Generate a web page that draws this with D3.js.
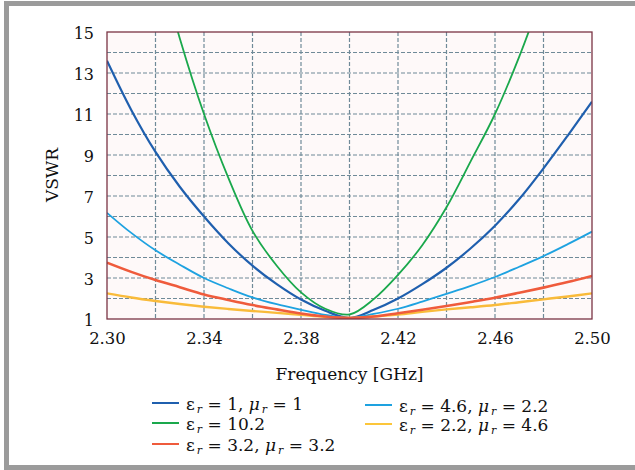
<!DOCTYPE html>
<head>
  <meta charset="utf-8">
  <script src="https://d3js.org/d3.v7.min.js"></script>
  <style>
    body { margin: 0; background: #fff; }
    svg { width: 635px; height: 470px; display: block; }
  </style>
</head>

<body>
  <svg></svg>

  <script>
    // frequency samples (GHz)
    const freqs = [2.30, 2.31, 2.32, 2.33, 2.34, 2.35, 2.36, 2.37, 2.38, 2.39, 2.40,
                   2.41, 2.42, 2.43, 2.44, 2.45, 2.46, 2.47, 2.48, 2.49, 2.50];

    // VSWR, one array per curve
    const vswrAir = [13.6, 11.2, 9.15, 7.45, 6.0, 4.7, 3.6, 2.7, 1.95, 1.4, 1.05,
                     1.45, 2.0, 2.7, 3.5, 4.45, 5.55, 6.85, 8.35, 9.95, 11.6];
    const vswrEps102 = [null, null, 19.0, 14.7, 11.0, 7.9, 5.3, 3.6, 2.3, 1.5, 1.22,
                        1.97, 3.15, 4.6, 6.45, 8.7, 11.0, 13.8, 17.0, null, null];
    const vswrEps46 = [6.18, 5.2, 4.35, 3.65, 3.0, 2.5, 2.05, 1.72, 1.45, 1.2, 1.05,
                       1.25, 1.5, 1.85, 2.23, 2.62, 3.05, 3.55, 4.07, 4.65, 5.26];
    const vswrEps32 = [3.75, 3.3, 2.9, 2.55, 2.2, 1.93, 1.68, 1.47, 1.27, 1.12, 1.05,
                       1.12, 1.28, 1.45, 1.63, 1.83, 2.04, 2.28, 2.53, 2.8, 3.1];
    const vswrEps22 = [2.25, 2.05, 1.88, 1.73, 1.6, 1.49, 1.39, 1.3, 1.2, 1.1, 1.05,
                       1.12, 1.22, 1.35, 1.47, 1.57, 1.68, 1.82, 1.96, 2.1, 2.25];

    const xTicks = [2.30, 2.34, 2.38, 2.42, 2.46, 2.50];
    const yTicks = [1, 3, 5, 7, 9, 11, 13, 15];
    const xGrid = [2.32, 2.34, 2.36, 2.38, 2.40, 2.42, 2.44, 2.46, 2.48];
    const yGrid = [2, 3, 4, 5, 6, 7, 8, 9, 10, 11, 12, 13, 14];

    // legend entries: [eps, mu] (mu null when not shown)
    const legendLabels = [['1', '1'], ['10.2', null], ['3.2', '3.2'], ['4.6', '2.2'], ['2.2', '4.6']];

    const series = [
      { values: vswrAir, color: '#1f5fae', width: 2.2 },
      { values: vswrEps102, color: '#1aa84c', width: 1.8 },
      { values: vswrEps46, color: '#1ea2e0', width: 1.8 },
      { values: vswrEps22, color: '#f9bb3a', width: 2.4 },
      { values: vswrEps32, color: '#ef5b3c', width: 2.6 },
    ];
    const legendColors = ['#1f5fae', '#1aa84c', '#ef5b3c', '#1ea2e0', '#fcc63a'];

    const serif = 'DejaVu Serif';
    const svg = d3.select('svg');
    const pL = 107, pR = 592, pT = 32, pB = 319;

    const x = d3.scaleLinear().domain([2.30, 2.50]).range([pL, pR]);
    const y = d3.scaleLinear().domain([1, 15]).range([pB, pT]);

    // outer grey frame (left, top, bottom)
    svg.append('rect').attr('x', 4).attr('y', 1).attr('width', 5).attr('height', 469).attr('fill', '#9b9b9b');
    svg.append('rect').attr('x', 4).attr('y', 1).attr('width', 631).attr('height', 5).attr('fill', '#9b9b9b');
    svg.append('rect').attr('x', 4).attr('y', 465).attr('width', 631).attr('height', 5).attr('fill', '#9b9b9b');

    // plot background
    svg.append('rect')
      .attr('x', pL).attr('y', pT)
      .attr('width', pR - pL).attr('height', pB - pT)
      .attr('fill', '#fef9f9');

    // grid
    svg.append('g').selectAll('line').data(xGrid).join('line')
      .attr('x1', d => x(d)).attr('x2', d => x(d))
      .attr('y1', pT).attr('y2', pB)
      .attr('stroke', '#6f8a98').attr('stroke-width', 1.2)
      .attr('stroke-dasharray', '4,2');
    svg.append('g').selectAll('line').data(yGrid).join('line')
      .attr('x1', pL).attr('x2', pR)
      .attr('y1', d => y(d)).attr('y2', d => y(d))
      .attr('stroke', '#6f8a98').attr('stroke-width', 1.2)
      .attr('stroke-dasharray', '4,2');

    // curves
    svg.append('clipPath').attr('id', 'plot')
      .append('rect').attr('x', pL).attr('y', pT)
      .attr('width', pR - pL).attr('height', pB - pT);

    const line = d3.line()
      .defined(d => d[1] != null)
      .x(d => x(d[0]))
      .y(d => y(d[1]))
      .curve(d3.curveCatmullRom.alpha(0.5));

    svg.append('g').attr('clip-path', 'url(#plot)')
      .selectAll('path').data(series).join('path')
      .attr('d', s => line(freqs.map((f, i) => [f, s.values[i]])))
      .attr('fill', 'none')
      .attr('stroke', s => s.color)
      .attr('stroke-width', s => s.width)
      .attr('stroke-linejoin', 'round');

    // plot border
    svg.append('rect')
      .attr('x', pL).attr('y', pT)
      .attr('width', pR - pL).attr('height', pB - pT)
      .attr('fill', 'none').attr('stroke', '#7a3444').attr('stroke-width', 1.3);

    // axes
    const xAxis = svg.append('g')
      .attr('transform', `translate(0,${pB})`)
      .call(d3.axisBottom(x).tickValues(xTicks).tickFormat(d3.format('.2f')).tickSize(0).tickPadding(13));
    const yAxis = svg.append('g')
      .attr('transform', `translate(${pL},0)`)
      .call(d3.axisLeft(y).tickValues(yTicks).tickFormat(d3.format('d')).tickSize(0).tickPadding(13));
    [xAxis, yAxis].forEach(a => {
      a.attr('font-family', serif);
      a.select('.domain').remove();
      a.selectAll('text').attr('fill', '#111');
    });
    xAxis.selectAll('text').attr('font-size', 16.5);
    yAxis.selectAll('text').attr('font-size', 16).attr('dy', '0.38em');

    // axis titles
    svg.append('text')
      .attr('x', (pL + pR) / 2).attr('y', 380)
      .attr('text-anchor', 'middle').attr('font-size', 17)
      .attr('font-family', serif).attr('fill', '#111')
      .text('Frequency [GHz]');
    svg.append('text')
      .attr('transform', 'translate(58,175) rotate(-90)')
      .attr('text-anchor', 'middle').attr('font-size', 17)
      .attr('font-family', serif).attr('fill', '#111')
      .text('VSWR');

    // legend
    const legendPos = [[152, 403], [152, 423], [152, 444], [365, 405], [365, 424]];
    const leg = svg.append('g').selectAll('g').data(legendLabels).join('g')
      .attr('transform', (d, i) => `translate(${legendPos[i][0]},${legendPos[i][1]})`);
    leg.append('line')
      .attr('x1', 0).attr('x2', 27)
      .attr('stroke', (d, i) => legendColors[i]).attr('stroke-width', 2);
    const lt = leg.append('text')
      .attr('x', 34).attr('y', 7).attr('font-size', 17)
      .attr('font-family', serif).attr('fill', '#111');
    lt.each(function (d) {
      const t = d3.select(this);
      t.append('tspan').text('ε');
      t.append('tspan').attr('dx', 2).attr('dy', 3).attr('font-size', 11).attr('font-style', 'italic').text('r');
      t.append('tspan').attr('dy', -3).text(' = ' + d[0] + (d[1] ? ', ' : ''));
      if (d[1]) {
        t.append('tspan').attr('font-style', 'italic').text('μ');
        t.append('tspan').attr('dx', 2).attr('dy', 3).attr('font-size', 11).attr('font-style', 'italic').text('r');
        t.append('tspan').attr('dy', -3).text(' = ' + d[1]);
      }
    });
  </script>
</body>
